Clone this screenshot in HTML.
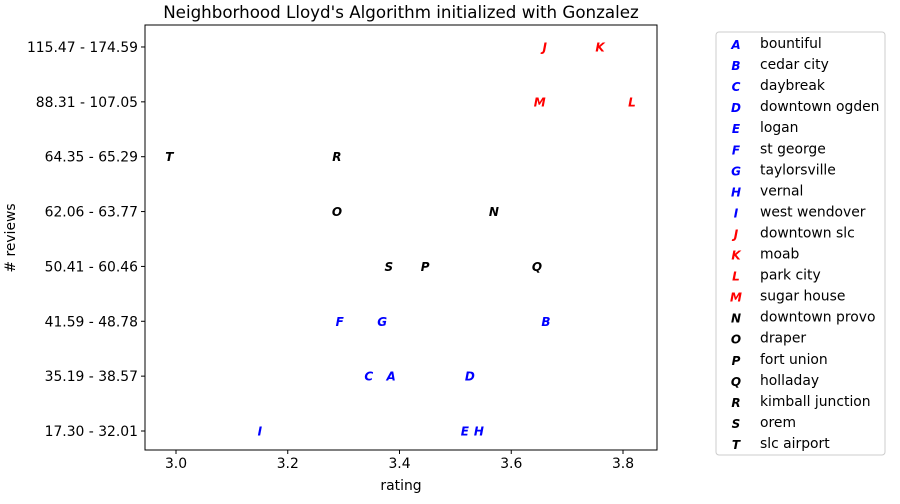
<!DOCTYPE html>
<html><head><meta charset="utf-8"><style>
body{margin:0;background:#fff;font-family:"DejaVu Sans","Liberation Sans",sans-serif;}
svg text{font-family:"DejaVu Sans","Liberation Sans",sans-serif;}
</style></head><body>
<svg id="chart" width="900" height="500" xmlns="http://www.w3.org/2000/svg"></svg>
<script>
const categories=["17.30 - 32.01","35.19 - 38.57","41.59 - 48.78","50.41 - 60.46","62.06 - 63.77","64.35 - 65.29","88.31 - 107.05","115.47 - 174.59"];
const letters=["A","B","C","D","E","F","G","H","I","J","K","L","M","N","O","P","Q","R","S","T"];
const names=["bountiful","cedar city","daybreak","downtown ogden","logan","st george","taylorsville","vernal","west wendover","downtown slc","moab","park city","sugar house","downtown provo","draper","fort union","holladay","kimball junction","orem","slc airport"];
const ratings=[3.385,3.662,3.345,3.526,3.517,3.293,3.369,3.542,3.150,3.660,3.759,3.816,3.651,3.569,3.288,3.446,3.646,3.288,3.381,2.988];
const reviewCat=[1,2,1,1,0,2,2,0,0,7,7,6,6,4,4,3,3,5,3,5];
const groupColor=["blue","blue","blue","blue","blue","blue","blue","blue","blue","red","red","red","red","black","black","black","black","black","black","black"];
const xTicks=[3.0,3.2,3.4,3.6,3.8];
const xTickLabels=["3.0","3.2","3.4","3.6","3.8"];

const svg=document.getElementById('chart');
const NS="http://www.w3.org/2000/svg";
const L=145,R=657,T=25,B=450;
const x=v=>176+(v-3.0)/0.2*111.75;
const y=i=>431-i*54.86;
function mk(tag,attrs,parent){const e=document.createElementNS(NS,tag);for(const k in attrs)e.setAttribute(k,attrs[k]);(parent||svg).appendChild(e);return e;}

const title=mk('text',{x:401,y:18,'text-anchor':'middle','font-size':16.7});
title.textContent="Neighborhood Lloyd's Algorithm initialized with Gonzalez";



const frame=mk('rect',{x:L,y:T,width:R-L,height:B-T,fill:'none',stroke:'#000','stroke-width':1});



xTicks.forEach((v,i)=>{
  const t=mk('line',{x1:x(v),x2:x(v),y1:B,y2:B+4,stroke:'#000'});
  
  
  const lb=mk('text',{x:x(v),y:B+18,'text-anchor':'middle','font-size':13.9});
  lb.textContent=xTickLabels[i];
  
  
});
categories.forEach((c,i)=>{
  const t=mk('line',{x1:L-4,x2:L,y1:y(i),y2:y(i),stroke:'#000'});
  
  
  const lb=mk('text',{x:L-7,y:y(i)+5,'text-anchor':'end','font-size':13.9});
  lb.textContent=c;
  
  
});
const xt=mk('text',{x:401,y:490,'text-anchor':'middle','font-size':13.9});
xt.textContent="rating";


const yt=mk('text',{x:15,y:238,'text-anchor':'middle','font-size':13.9,transform:'rotate(-90 15 238)'});
yt.textContent="# reviews";



letters.forEach((l,i)=>{
  const p=mk('text',{x:x(ratings[i]),y:y(reviewCat[i])+4.5,'text-anchor':'middle','font-size':12,'font-style':'italic','font-weight':'bold',fill:groupColor[i]});
  p.textContent=l;
  
  
});

const lg=mk('g',{});


mk('rect',{x:716,y:32,width:169,height:423,fill:'#fff',stroke:'#ccc',rx:3},lg);
names.forEach((n,i)=>{
  const yy=44+i*21.05;
  const m=mk('text',{x:736,y:yy+5,'text-anchor':'middle','font-size':12,'font-style':'italic','font-weight':'bold',fill:groupColor[i]},lg);
  m.textContent=letters[i];
  
  
  const t=mk('text',{x:760,y:yy+4,'font-size':13.9},lg);
  t.textContent=n;
  
  
});
</script>
</body></html>
